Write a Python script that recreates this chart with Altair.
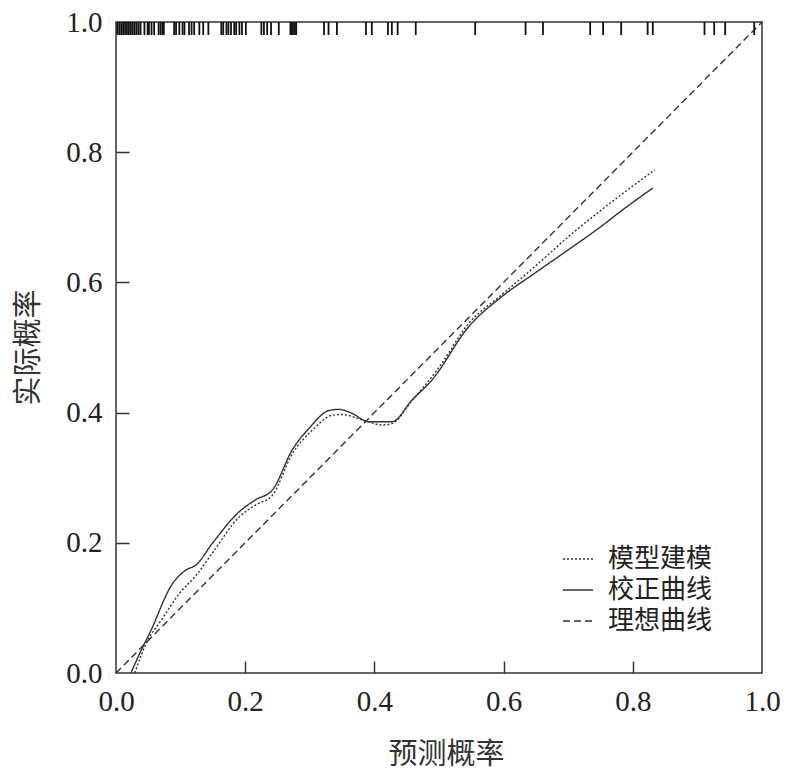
import altair as alt
import pandas as pd

# ---- data ----
ticks = [0.0, 0.2, 0.4, 0.6, 0.8, 1.0]
inner_ticks = [0.2, 0.4, 0.6, 0.8]

solid_x = [0.023, 0.039, 0.052, 0.088, 0.108, 0.124, 0.149, 0.191, 0.216, 0.242,
           0.273, 0.299, 0.329, 0.345, 0.365, 0.391, 0.427, 0.458, 0.489, 0.546,
           0.597, 0.648, 0.700, 0.751, 0.777, 0.831]
solid_y = [0.000, 0.035, 0.061, 0.138, 0.158, 0.166, 0.199, 0.248, 0.266, 0.281,
           0.343, 0.376, 0.403, 0.405, 0.399, 0.386, 0.386, 0.419, 0.450, 0.532,
           0.578, 0.614, 0.650, 0.686, 0.706, 0.745]

dotted_x = [0.029, 0.047, 0.070, 0.098, 0.124, 0.149, 0.191, 0.216, 0.242, 0.273,
            0.304, 0.335, 0.350, 0.381, 0.412, 0.427, 0.458, 0.499, 0.546, 0.597,
            0.648, 0.700, 0.751, 0.834]
dotted_y = [0.000, 0.046, 0.081, 0.122, 0.150, 0.184, 0.240, 0.258, 0.273, 0.337,
            0.373, 0.396, 0.397, 0.389, 0.381, 0.383, 0.418, 0.468, 0.537, 0.581,
            0.624, 0.670, 0.711, 0.773]

ideal_x = [0.0, 1.0]
ideal_y = [0.0, 1.0]

rug_x = [0.002, 0.005, 0.008, 0.011, 0.014, 0.017, 0.020, 0.023, 0.026, 0.029,
         0.032, 0.035, 0.038, 0.044, 0.049, 0.051, 0.055, 0.059, 0.066, 0.069,
         0.072, 0.074, 0.090, 0.093, 0.098, 0.103, 0.106, 0.113, 0.117, 0.121,
         0.129, 0.135, 0.143, 0.163, 0.166, 0.171, 0.174, 0.178, 0.183, 0.186,
         0.191, 0.195, 0.201, 0.225, 0.229, 0.234, 0.240, 0.252, 0.270, 0.272,
         0.274, 0.277, 0.279, 0.322, 0.329, 0.342, 0.387, 0.396, 0.421, 0.427,
         0.436, 0.464, 0.556, 0.634, 0.661, 0.734, 0.754, 0.782, 0.823, 0.831,
         0.911, 0.926, 0.943, 0.988]

series_names = ["模型建模", "校正曲线", "理想曲线"]

# ---- tables ----
df = pd.concat([
    pd.DataFrame({"x": dotted_x, "y": dotted_y, "s": series_names[0]}),
    pd.DataFrame({"x": solid_x, "y": solid_y, "s": series_names[1]}),
    pd.DataFrame({"x": ideal_x, "y": ideal_y, "s": series_names[2]}),
], ignore_index=True)
rug_df = pd.DataFrame({"x": rug_x})

SERIF = "Liberation Serif, Noto Sans CJK SC"
CJK = "Noto Sans CJK SC"
xs = alt.Scale(domain=[0, 1], nice=False, zero=False)
ys = alt.Scale(domain=[0, 1], nice=False, zero=False)

W, H = 646, 651

main_x_axis = alt.Axis(values=ticks, format=".1f", ticks=False, tickSize=0, domain=False,
                       grid=False, labelPadding=14, labelFlush=False, labelOverlap=False,
                       title="预测概率", titleX=330, titleY=81, titleBaseline="middle",
                       titleAlign="center")
main_y_axis = alt.Axis(values=ticks, format=".1f", ticks=False, tickSize=0, domain=False,
                       grid=False, labelPadding=14, labelFlush=False, labelOverlap=False,
                       title="实际概率", titleX=-88, titleY=325, titleBaseline="middle",
                       titleAlign="center", titleAngle=270)
tick_x_axis = alt.Axis(orient="top", offset=-H, values=inner_ticks, labels=False,
                       domain=False, grid=False, ticks=True, tickSize=12, tickWidth=1.5,
                       tickColor="#333", title=None)
tick_y_axis = alt.Axis(orient="right", offset=-W, values=inner_ticks, labels=False,
                       domain=False, grid=False, ticks=True, tickSize=13, tickWidth=1.5,
                       tickColor="#333", title=None)

dash = alt.StrokeDash(
    "s:N",
    scale=alt.Scale(domain=series_names, range=[[2, 2], [1, 0], [7, 4]]),
    legend=alt.Legend(orient="none", legendX=446, legendY=521, title=None,
                      symbolType="stroke", symbolSize=900, symbolStrokeWidth=1.5,
                      symbolStrokeColor="#333", labelFont=CJK, labelFontSize=26,
                      labelColor="#222", labelOffset=14, rowPadding=2,
                      symbolLimit=0),
)

lines = alt.Chart(df).mark_line(color="#333", strokeWidth=1.4, interpolate="monotone").encode(
    x=alt.X("x:Q", scale=xs, axis=main_x_axis),
    y=alt.Y("y:Q", scale=ys, axis=main_y_axis),
    strokeDash=dash,
    detail="s:N",
)

tick_layer = alt.Chart(pd.DataFrame({"x": ideal_x, "y": ideal_y})).mark_point(opacity=0).encode(
    x=alt.X("x:Q", scale=xs, axis=tick_x_axis),
    y=alt.Y("y:Q", scale=ys, axis=tick_y_axis),
)

rug = alt.Chart(rug_df).mark_rule(color="#111", strokeWidth=1.8).encode(
    x=alt.X("x:Q", scale=xs, axis=None),
    y=alt.value(0),
    y2=alt.value(13),
)

chart = (
    alt.layer(lines, tick_layer, rug)
    .resolve_axis(x="independent", y="independent")
    .properties(width=W, height=H,
                background="white",
                autosize=alt.AutoSizeParams(type="none"),
                padding={"left": 108, "top": 14, "right": 19, "bottom": 97})
    .configure_view(stroke="#333", strokeWidth=1.5)
    .configure_axis(labelFont=SERIF, labelFontSize=29, labelColor="#222",
                    titleFont=CJK, titleFontSize=29, titleFontWeight="normal",
                    titleColor="#333")
)

chart.save("out.html", embed_options={"renderer": "svg", "actions": False})
